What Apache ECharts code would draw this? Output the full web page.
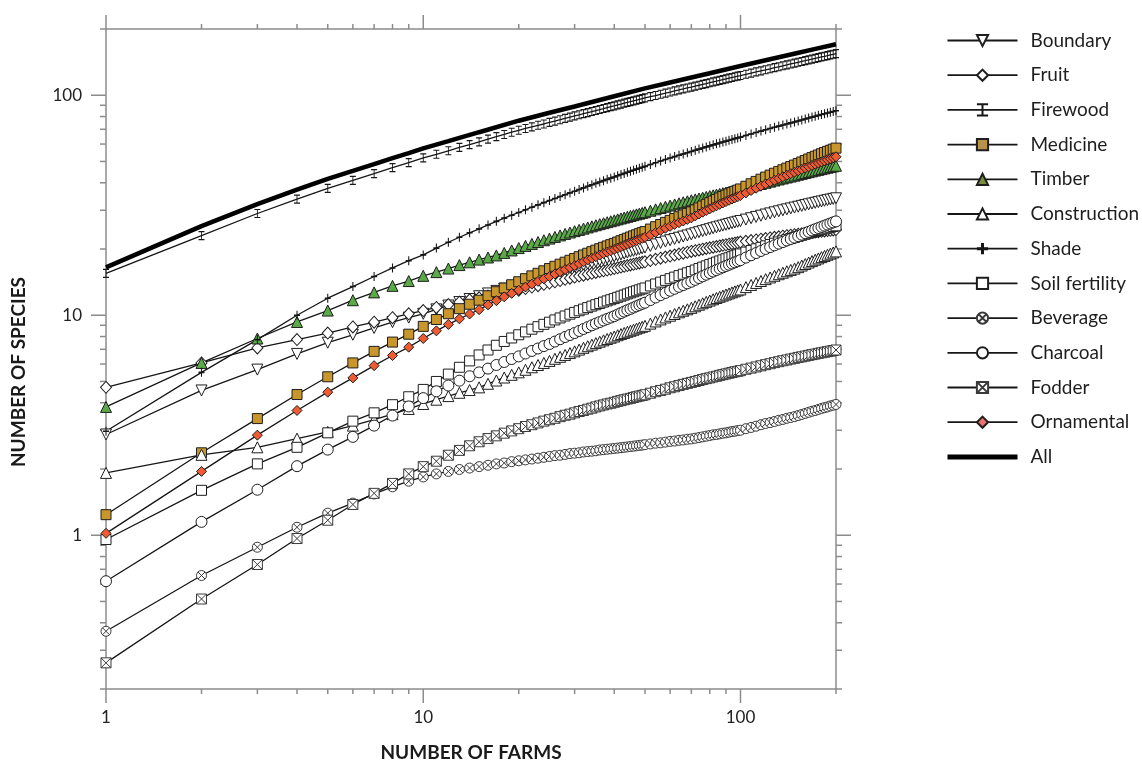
<!DOCTYPE html>
<html>
<head>
<meta charset="utf-8">
<title>Species accumulation by use</title>
<script src="https://cdn.jsdelivr.net/npm/echarts@6/dist/echarts.min.js"></script>
<style>
  html, body { margin: 0; padding: 0; background: #fff; }
  #chart { width: 1142px; height: 763px; }
</style>
</head>
<body>
<div id="chart"></div>
<script>
// number of farms sampled (x positions of the markers)
const farms = [
  1, 2, 3, 4, 5, 6, 7, 8, 9, 10, 11, 12, 13, 14, 15, 16, 17, 18, 19, 20,
  21, 22, 23, 24, 25, 26, 27, 28, 29, 30, 31, 32, 33, 34, 35, 36, 37, 38, 39, 40,
  41, 42, 43, 44, 45, 46, 47, 48, 49, 50,
  52, 54, 56, 58, 60, 62, 64, 66, 68, 70,
  72, 74, 76, 78, 80, 82, 84, 86, 88, 90, 92, 94, 96, 98, 100,
  104, 108, 112, 116, 120, 124, 128, 132, 136, 140, 144, 148, 152, 156, 160, 164, 168, 172, 176, 180, 184, 188, 192, 196, 200
];

const boundary = [
  2.87, 4.55, 5.66, 6.67, 7.5, 8.15, 8.75, 9.3, 9.75, 10.15,
  10.63, 11.07, 11.48, 11.85, 12.2, 12.56, 12.9, 13.21, 13.52, 13.8,
  14.11, 14.4, 14.68, 14.94, 15.2, 15.46, 15.71, 15.95, 16.18, 16.4,
  16.64, 16.87, 17.1, 17.32, 17.53, 17.73, 17.93, 18.13, 18.32, 18.5,
  18.7, 18.89, 19.08, 19.27, 19.45, 19.63, 19.8, 19.97, 20.14, 20.3,
  20.65, 20.99, 21.31, 21.62, 21.93, 22.22, 22.5, 22.78, 23.04, 23.3,
  23.58, 23.85, 24.11, 24.36, 24.61, 24.85, 25.09, 25.32, 25.55, 25.77, 25.98, 26.19, 26.4, 26.6, 26.8,
  27.21, 27.6, 27.98, 28.34, 28.69, 29.03, 29.36, 29.68, 29.98, 30.29, 30.58, 30.86, 31.14, 31.41, 31.67, 31.93, 32.18, 32.43, 32.67, 32.9, 33.13, 33.36, 33.57, 33.79, 34
];
const fruit = [
  4.7, 6.07, 7.1, 7.75, 8.3, 8.85, 9.3, 9.75, 10.15, 10.5,
  10.85, 11.18, 11.47, 11.75, 12, 12.22, 12.44, 12.63, 12.82, 13,
  13.22, 13.43, 13.63, 13.82, 14, 14.19, 14.38, 14.56, 14.73, 14.9,
  15.06, 15.21, 15.36, 15.51, 15.65, 15.79, 15.92, 16.05, 16.18, 16.3,
  16.43, 16.56, 16.69, 16.81, 16.93, 17.05, 17.17, 17.28, 17.39, 17.5,
  17.73, 17.96, 18.17, 18.38, 18.58, 18.78, 18.97, 19.15, 19.33, 19.5,
  19.66, 19.81, 19.96, 20.11, 20.25, 20.39, 20.52, 20.65, 20.78, 20.91, 21.03, 21.15, 21.27, 21.39, 21.5,
  21.67, 21.84, 22, 22.16, 22.31, 22.45, 22.6, 22.73, 22.86, 22.99, 23.12, 23.24, 23.36, 23.46, 23.57, 23.67, 23.77, 23.87, 23.97, 24.06, 24.15, 24.24, 24.33, 24.42, 24.5
];
const firewood = [
  15.5, 23, 29, 33.7, 37.7, 41, 44, 46.9, 49.4, 51.9,
  53.9, 55.9, 57.9, 59.6, 61.4, 63.2, 64.8, 66.3, 67.9, 69.3,
  70.6, 71.8, 73, 74, 75.3, 76.3, 77.4, 78.5, 79.5, 80.5,
  81.5, 82.5, 83.4, 84.3, 85.2, 86.1, 87, 87.9, 88.7, 89.5,
  90.4, 91.1, 92, 92.8, 93.5, 94.3, 95, 95.8, 96.5, 97.2,
  98.5, 99.7, 101, 102.2, 103.4, 104.6, 105.7, 106.8, 107.9, 108.9,
  110, 111, 112, 113, 114, 115, 115.9, 116.8, 117.8, 118.7, 119.6, 120.4, 121.3, 122.2, 122.9,
  124.5, 126.1, 127.6, 129.1, 130.5, 131.9, 133.4, 134.7, 136.1, 137.4, 138.7, 139.9, 141.2, 142.4, 143.6, 144.8, 145.9, 147, 148.2, 149.3, 150.3, 151.4, 152.5, 153.5, 154.5
];
const medicine = [
  1.24, 2.37, 3.39, 4.36, 5.25, 6.07, 6.85, 7.55, 8.2, 8.9,
  9.56, 10.16, 10.71, 11.22, 11.7, 12.26, 12.79, 13.29, 13.76, 14.2,
  14.66, 15.1, 15.51, 15.92, 16.3, 16.69, 17.06, 17.42, 17.77, 18.1,
  18.45, 18.79, 19.13, 19.45, 19.76, 20.07, 20.36, 20.65, 20.93, 21.2,
  21.51, 21.81, 22.11, 22.4, 22.68, 22.95, 23.22, 23.49, 23.75, 24,
  24.64, 25.26, 25.85, 26.43, 26.98, 27.51, 28.04, 28.54, 29.03, 29.5,
  30.13, 30.75, 31.35, 31.92, 32.49, 33.05, 33.59, 34.12, 34.64, 35.14, 35.64, 36.12, 36.59, 37.04, 37.5,
  38.57, 39.59, 40.58, 41.53, 42.45, 43.33, 44.2, 45.04, 45.84, 46.63, 47.39, 48.14, 48.91, 49.72, 50.52, 51.29, 52.05, 52.78, 53.5, 54.21, 54.89, 55.57, 56.22, 56.87, 57.5
];
const timber = [
  3.83, 6.07, 7.84, 9.32, 10.5, 11.7, 12.7, 13.6, 14.3, 15.1,
  15.7, 16.3, 16.9, 17.4, 17.9, 18.3, 18.7, 19.2, 19.7, 20.2,
  20.66, 21.1, 21.51, 21.92, 22.3, 22.69, 23.06, 23.42, 23.77, 24.1,
  24.43, 24.75, 25.06, 25.36, 25.65, 25.94, 26.21, 26.48, 26.74, 27,
  27.27, 27.53, 27.78, 28.02, 28.27, 28.5, 28.74, 28.96, 29.18, 29.4,
  29.85, 30.29, 30.71, 31.12, 31.51, 31.89, 32.26, 32.62, 32.96, 33.3,
  33.62, 33.92, 34.22, 34.51, 34.8, 35.08, 35.34, 35.61, 35.87, 36.12, 36.37, 36.61, 36.84, 37.07, 37.3,
  37.88, 38.44, 38.98, 39.5, 40, 40.48, 40.95, 41.41, 41.85, 42.28, 42.69, 43.1, 43.51, 43.91, 44.31, 44.7, 45.07, 45.44, 45.8, 46.15, 46.5, 46.83, 47.16, 47.49, 47.8
];
const construction = [
  1.92, 2.32, 2.51, 2.75, 2.95, 3.15, 3.35, 3.55, 3.75, 3.95,
  4.13, 4.29, 4.44, 4.57, 4.7, 4.88, 5.05, 5.21, 5.36, 5.5,
  5.65, 5.8, 5.94, 6.07, 6.2, 6.34, 6.47, 6.6, 6.73, 6.85,
  6.98, 7.11, 7.23, 7.35, 7.47, 7.58, 7.69, 7.8, 7.9, 8,
  8.11, 8.21, 8.31, 8.41, 8.5, 8.59, 8.69, 8.78, 8.86, 8.95,
  9.16, 9.37, 9.57, 9.77, 9.95, 10.13, 10.31, 10.48, 10.64, 10.8,
  10.98, 11.16, 11.33, 11.5, 11.66, 11.82, 11.98, 12.13, 12.28, 12.42, 12.56, 12.7, 12.84, 12.97, 13.1,
  13.42, 13.73, 14.02, 14.31, 14.59, 14.85, 15.11, 15.36, 15.6, 15.84, 16.07, 16.29, 16.54, 16.82, 17.09, 17.36, 17.62, 17.88, 18.12, 18.37, 18.6, 18.83, 19.06, 19.28, 19.5
];
const shade = [
  2.97, 5.5, 7.75, 10, 11.95, 13.5, 15, 16.4, 17.7, 18.8,
  20.19, 21.46, 22.62, 23.7, 24.7, 25.73, 26.71, 27.62, 28.48, 29.3,
  30.15, 30.97, 31.74, 32.49, 33.2, 33.93, 34.63, 35.31, 35.97, 36.6,
  37.27, 37.92, 38.55, 39.17, 39.76, 40.34, 40.9, 41.45, 41.98, 42.5,
  43.06, 43.6, 44.12, 44.64, 45.14, 45.63, 46.12, 46.59, 47.05, 47.5,
  48.43, 49.33, 50.2, 51.03, 51.84, 52.61, 53.37, 54.1, 54.81, 55.5,
  56.21, 56.9, 57.58, 58.23, 58.87, 59.5, 60.1, 60.69, 61.28, 61.85, 62.4, 62.94, 63.47, 63.99, 64.5,
  65.62, 66.69, 67.72, 68.71, 69.68, 70.6, 71.5, 72.38, 73.22, 74.05, 74.84, 75.62, 76.41, 77.22, 78.02, 78.79, 79.55, 80.28, 81, 81.71, 82.39, 83.07, 83.72, 84.37, 85
];
const soilFertility = [
  0.956, 1.6, 2.11, 2.51, 2.92, 3.3, 3.6, 3.92, 4.26, 4.6,
  5, 5.4, 5.8, 6.2, 6.6, 6.95, 7.3, 7.6, 7.88, 8.15,
  8.4, 8.64, 8.87, 9.09, 9.3, 9.52, 9.72, 9.92, 10.11, 10.3,
  10.48, 10.66, 10.83, 11, 11.16, 11.31, 11.47, 11.62, 11.76, 11.9,
  12.06, 12.21, 12.35, 12.5, 12.64, 12.78, 12.91, 13.04, 13.17, 13.3,
  13.59, 13.87, 14.14, 14.4, 14.66, 14.9, 15.14, 15.36, 15.59, 15.8,
  16.05, 16.3, 16.54, 16.77, 17, 17.22, 17.44, 17.65, 17.85, 18.06, 18.25, 18.45, 18.64, 18.82, 19,
  19.36, 19.7, 20.04, 20.35, 20.67, 20.96, 21.25, 21.53, 21.8, 22.07, 22.33, 22.58, 22.83, 23.08, 23.33, 23.57, 23.8, 24.03, 24.26, 24.48, 24.69, 24.9, 25.1, 25.3, 25.5
];
const beverage = [
  0.366, 0.656, 0.882, 1.087, 1.26, 1.4, 1.54, 1.66, 1.76, 1.84,
  1.9, 1.95, 1.99, 2.02, 2.05, 2.08, 2.11, 2.13, 2.16, 2.18,
  2.2, 2.22, 2.24, 2.26, 2.28, 2.3, 2.31, 2.33, 2.35, 2.36,
  2.37, 2.39, 2.4, 2.41, 2.42, 2.44, 2.45, 2.46, 2.47, 2.48,
  2.49, 2.5, 2.51, 2.52, 2.53, 2.54, 2.55, 2.56, 2.57, 2.58,
  2.6, 2.62, 2.63, 2.65, 2.67, 2.68, 2.7, 2.71, 2.73, 2.74,
  2.76, 2.78, 2.8, 2.82, 2.84, 2.86, 2.87, 2.89, 2.91, 2.92, 2.94, 2.96, 2.97, 2.99, 3,
  3.05, 3.09, 3.13, 3.18, 3.22, 3.25, 3.29, 3.33, 3.36, 3.4, 3.43, 3.46, 3.5, 3.54, 3.58, 3.62, 3.66, 3.69, 3.73, 3.77, 3.8, 3.83, 3.87, 3.9, 3.93
];
const charcoal = [
  0.618, 1.15, 1.61, 2.06, 2.45, 2.8, 3.15, 3.5, 3.85, 4.2,
  4.51, 4.79, 5.04, 5.28, 5.5, 5.72, 5.94, 6.13, 6.32, 6.5,
  6.7, 6.88, 7.06, 7.24, 7.4, 7.59, 7.78, 7.96, 8.13, 8.3,
  8.48, 8.66, 8.83, 9, 9.16, 9.31, 9.47, 9.62, 9.76, 9.9,
  10.07, 10.23, 10.39, 10.54, 10.69, 10.84, 10.98, 11.13, 11.27, 11.4,
  11.72, 12.04, 12.34, 12.63, 12.92, 13.19, 13.46, 13.71, 13.96, 14.2,
  14.48, 14.76, 15.03, 15.29, 15.55, 15.8, 16.04, 16.28, 16.51, 16.74, 16.96, 17.18, 17.39, 17.59, 17.8,
  18.28, 18.73, 19.17, 19.59, 20.01, 20.4, 20.78, 21.16, 21.51, 21.87, 22.21, 22.54, 22.88, 23.24, 23.6, 23.94, 24.28, 24.6, 24.92, 25.24, 25.54, 25.84, 26.13, 26.42, 26.7
];
const fodder = [
  0.263, 0.513, 0.736, 0.966, 1.17, 1.38, 1.55, 1.72, 1.9, 2.05,
  2.17, 2.31, 2.43, 2.55, 2.66, 2.75, 2.83, 2.91, 2.98, 3.05,
  3.12, 3.18, 3.24, 3.3, 3.35, 3.4, 3.46, 3.51, 3.55, 3.6,
  3.65, 3.69, 3.74, 3.78, 3.83, 3.87, 3.91, 3.95, 3.98, 4.02,
  4.06, 4.09, 4.13, 4.16, 4.19, 4.23, 4.26, 4.29, 4.32, 4.35,
  4.42, 4.49, 4.55, 4.61, 4.68, 4.73, 4.79, 4.85, 4.9, 4.95,
  5, 5.05, 5.1, 5.15, 5.19, 5.24, 5.28, 5.33, 5.37, 5.41, 5.45, 5.49, 5.53, 5.56, 5.6,
  5.68, 5.75, 5.82, 5.89, 5.96, 6.02, 6.09, 6.15, 6.21, 6.26, 6.32, 6.37, 6.43, 6.47, 6.52, 6.57, 6.62, 6.66, 6.71, 6.75, 6.79, 6.83, 6.87, 6.91, 6.95
];
const ornamental = [
  1.02, 1.95, 2.85, 3.69, 4.47, 5.19, 5.9, 6.56, 7.16, 7.84,
  8.49, 9.08, 9.63, 10.13, 10.6, 11.14, 11.65, 12.12, 12.57, 13,
  13.44, 13.85, 14.25, 14.63, 15, 15.39, 15.76, 16.12, 16.47, 16.8,
  17.15, 17.49, 17.83, 18.15, 18.46, 18.77, 19.06, 19.35, 19.63, 19.9,
  20.2, 20.49, 20.77, 21.05, 21.33, 21.59, 21.85, 22.11, 22.36, 22.6,
  23.19, 23.77, 24.32, 24.85, 25.36, 25.86, 26.34, 26.81, 27.26, 27.7,
  28.28, 28.84, 29.39, 29.91, 30.43, 30.94, 31.43, 31.91, 32.39, 32.85, 33.3, 33.74, 34.17, 34.58, 35,
  35.97, 36.9, 37.8, 38.66, 39.5, 40.3, 41.09, 41.85, 42.58, 43.3, 43.99, 44.67, 45.35, 46.02, 46.68, 47.33, 47.96, 48.57, 49.17, 49.76, 50.33, 50.89, 51.44, 51.98, 52.5
];

// "All" is a plain thick line, so fewer points are enough
const allFarms = [1, 2, 3, 4, 5, 6, 7, 8, 9, 10, 12, 15, 20, 25, 30, 40, 50, 60, 70, 80, 100, 120, 150, 175, 200];
const allSpecies = [16.5, 25.4, 32, 37.2, 41.7, 45.3, 48.6, 51.8, 54.6, 57.3, 61.8, 67.9, 76.6, 83.2, 88.9, 98.9, 107.4, 114.3, 120.4, 125.9, 135.8, 144.2, 155.2, 163.3, 170.6];

// axis ticks (log decades and the 2..9 steps between them)
const majorTicks = [1, 10, 100];
const minorTicksX = [2, 3, 4, 5, 6, 7, 8, 9, 20, 30, 40, 50, 60, 70, 80, 90, 200];
const minorTicksY = [0.2, 0.3, 0.4, 0.5, 0.6, 0.7, 0.8, 0.9, 2, 3, 4, 5, 6, 7, 8, 9, 20, 30, 40, 50, 60, 70, 80, 90, 200];

const axisGray = '#8c8c8c';
const ink = '#161616';

const SYM_IBEAM = 'path://M2,0H8M5,0V12M2,12H8';
const SYM_PLUS = 'path://M5,0V10M0,5H10';
const SYM_CIRCLE_X = 'path://M10,5A5,5,0,1,1,0,5A5,5,0,1,1,10,5Z M1.46,1.46L8.54,8.54 M8.54,1.46L1.46,8.54';
const SYM_SQUARE_X = 'path://M0,0H10V10H0Z M0,0L10,10 M10,0L0,10';

function pairs(xs, ys) {
  return xs.map((x, i) => [x, ys[i]]);
}

function curve(name, values, symbol, size, fill, extra) {
  return Object.assign({
    name: name,
    type: 'line',
    data: pairs(farms, values),
    symbol: symbol,
    symbolSize: size,
    showAllSymbol: true,
    lineStyle: { color: ink, width: 1.3 },
    itemStyle: { color: fill, borderColor: '#1e1e1e', borderWidth: 1 },
    emphasis: { disabled: true },
    animation: false
  }, extra || {});
}

function renderTicks(params, api) {
  const bl = api.coord([1, 0.2]);
  const tr = api.coord([200, 200]);
  const left = bl[0], bottom = bl[1], right = tr[0], top = tr[1];
  const children = [];
  const add = (x1, y1, x2, y2) => children.push({
    type: 'line',
    shape: { x1: x1, y1: y1, x2: x2, y2: y2 },
    style: { stroke: axisGray, lineWidth: 1.5 }
  });
  majorTicks.forEach(v => {
    const px = api.coord([v, 1])[0];
    add(px, bottom, px, bottom + 14);
    add(px, top, px, top - 14);
    const py = api.coord([1, v])[1];
    add(left, py, left - 15, py);
    add(right, py, right + 15, py);
  });
  minorTicksX.forEach(v => {
    const px = api.coord([v, 1])[0];
    add(px, bottom, px, bottom + 5);
    add(px, top, px, top - 5);
  });
  minorTicksY.forEach(v => {
    const py = api.coord([1, v])[1];
    add(left, py, left - 6, py);
    add(right, py, right + 6, py);
  });
  return { type: 'group', children: children };
}

const isDecade = v => Math.abs(Math.log10(v) - Math.round(Math.log10(v))) < 1e-6 && v >= 1;

const chart = echarts.init(document.getElementById('chart'), null, { renderer: 'canvas' });

const logAxis = (position, min, max, labels) => ({
  type: 'log',
  logBase: 10,
  position: position,
  min: min,
  max: max,
  axisLine: { show: true, lineStyle: { color: axisGray, width: 1.5 } },
  axisTick: { show: false },
  minorTick: { show: false },
  splitLine: { show: false },
  axisLabel: labels ? {
    show: true,
    color: '#222',
    fontFamily: 'Lato',
    fontSize: 17,
    margin: position === 'bottom' ? 20 : 24,
    formatter: v => (isDecade(v) ? String(Math.round(v)) : '')
  } : { show: false }
});

const option = {
  backgroundColor: '#fff',
  animation: false,
  grid: { left: 106, top: 29, width: 730, height: 660, containLabel: false },
  xAxis: [logAxis('bottom', 1, 200, true), logAxis('top', 1, 200, false)],
  yAxis: [logAxis('left', 0.2, 200, true), logAxis('right', 0.2, 200, false)],
  legend: {
    orient: 'vertical',
    left: 945,
    top: 31,
    padding: 0,
    itemWidth: 70,
    itemHeight: 14,
    itemGap: 15.7,
    selectedMode: false,
    lineStyle: { width: 1.8 },
    textStyle: { fontFamily: 'Lato', fontSize: 19, color: '#1e1e1e', lineHeight: 14, padding: [0, 0, 0, 8] },
    data: [
      { name: 'Boundary' },
      { name: 'Fruit' },
      { name: 'Firewood' },
      { name: 'Medicine', itemStyle: { color: '#b8914a' } },
      { name: 'Timber', itemStyle: { color: '#7b8c3d' } },
      { name: 'Construction' },
      { name: 'Shade', itemStyle: { borderWidth: 3 } },
      { name: 'Soil fertility' },
      { name: 'Beverage' },
      { name: 'Charcoal' },
      { name: 'Fodder' },
      { name: 'Ornamental', itemStyle: { color: '#f07070' } },
      { name: 'All', itemStyle: { opacity: 0 }, lineStyle: { width: 5 } }
    ]
  },
  graphic: [
    {
      type: 'text', x: 471, y: 753,
      style: { text: 'NUMBER OF FARMS', font: 'bold 19px Lato', fill: '#1a1a1a', textAlign: 'center', textVerticalAlign: 'middle' }
    },
    {
      type: 'text', x: 19, y: 372, rotation: Math.PI / 2,
      style: { text: 'NUMBER OF SPECIES', font: 'bold 19px Lato', fill: '#1a1a1a', textAlign: 'center', textVerticalAlign: 'middle' }
    }
  ],
  series: [
    {
      type: 'custom',
      name: 'ticks',
      renderItem: renderTicks,
      data: [[1, 1]],
      clip: false,
      silent: true,
      animation: false
    },
    curve('Boundary', boundary, 'triangle', 11, '#ffffff', { symbolRotate: 180 }),
    curve('Fruit', fruit, 'diamond', [11, 12], '#ffffff'),
    curve('Firewood', firewood, SYM_IBEAM, [6, 8], 'none', {
      itemStyle: { color: 'none', borderColor: ink, borderWidth: 1 }
    }),
    curve('Timber', timber, 'triangle', 11, '#5aab47'),
    curve('Medicine', medicine, 'rect', 10, '#c9962c'),
    curve('Construction', construction, 'triangle', 11, '#ffffff'),
    curve('Shade', shade, SYM_PLUS, [6, 9], 'none', {
      itemStyle: { color: 'none', borderColor: ink, borderWidth: 1.3 }
    }),
    curve('Soil fertility', soilFertility, 'rect', 10, '#ffffff'),
    curve('Beverage', beverage, SYM_CIRCLE_X, 10, '#ffffff', {
      itemStyle: { color: '#ffffff', borderColor: '#3a3a3a', borderWidth: 1 }
    }),
    curve('Charcoal', charcoal, 'circle', 11, '#ffffff'),
    curve('Fodder', fodder, SYM_SQUARE_X, 10, '#ffffff', {
      itemStyle: { color: '#ffffff', borderColor: '#3a3a3a', borderWidth: 1 }
    }),
    curve('Ornamental', ornamental, 'diamond', 10, '#ef5b33'),
    {
      name: 'All',
      type: 'line',
      data: pairs(allFarms, allSpecies),
      symbol: 'none',
      lineStyle: { color: '#000', width: 4.5 },
      itemStyle: { color: '#000' },
      emphasis: { disabled: true },
      animation: false
    }
  ]
};

chart.setOption(option);
</script>
</body>
</html>
